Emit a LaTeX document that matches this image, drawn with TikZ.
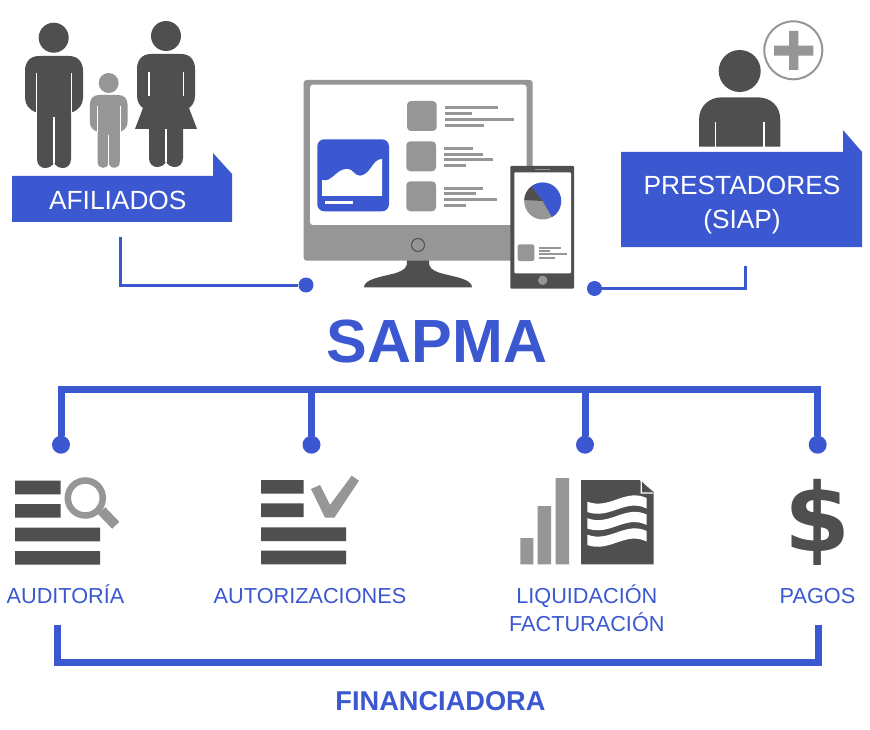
\documentclass[tikz,border=0pt]{standalone}
\usepackage{fontspec}
\setmainfont{Liberation Sans}
\usepackage{tikz}
\definecolor{azul}{HTML}{3B58D1}
\definecolor{oscuro}{HTML}{4F4F4F}
\definecolor{gris}{HTML}{969696}
\tikzset{
  punto/.style={circle,fill=azul,inner sep=0pt,minimum size=15pt},
  puntob/.style={circle,fill=azul,inner sep=0pt,minimum size=18pt},
  linea/.style={draw=azul,line width=3pt},
  lineab/.style={draw=azul,line width=7pt},
  rotulo/.style={text=azul,font=\fontsize{21.7}{28}\selectfont,inner sep=0pt,anchor=base},
  blanco/.style={text=white,font=\fontsize{26.3}{34}\selectfont,inner sep=0pt,align=center,anchor=base},
  ranura/.style={draw=white,line width=1.2pt},
  man/.pic={
    \fill[pic actions] (-15,0)--(15,0) .. controls (24,0) and (29,6) .. (29,15)--(29,42)
      .. controls (29,49) and (24,54) .. (19,56)--(17,56)--(17,103)
      .. controls (17,109) and (13,112) .. (9,112) .. controls (5,112) and (1,110) .. (0,106)
      .. controls (-1,110) and (-5,112) .. (-9,112) .. controls (-13,112) and (-17,109) .. (-17,103)
      --(-17,56)--(-19,56) .. controls (-24,54) and (-29,49) .. (-29,42)--(-29,15)
      .. controls (-29,6) and (-24,0) .. (-15,0)--cycle;
    \draw[ranura] (-17.8,17)--(-17.8,57) (17.8,17)--(17.8,57) (0,61)--(0,107);
  }
}
\begin{document}
\begin{tikzpicture}[x=1pt,y=-1pt]
  \useasboundingbox (0,0) rectangle (870,730);
  \fill[white] (0,0) rectangle (870,730);
  % afiliados
  \fill[oscuro] (53.7,37.7) circle[radius=15];
  \pic[fill=oscuro] at (54,56) {man};
  \fill[gris] (108.7,83) circle[radius=10];
  \pic[fill=gris,scale=0.65] at (108.7,95) {man};
  \fill[oscuro] (166,36) circle[radius=15];
  \fill[oscuro] (151,54)--(181,54) .. controls (190,54) and (195,60) .. (195,69)--(195,96)
    .. controls (195,102) and (192,106) .. (189,108)--(197,129)--(183,129)--(183,158)
    .. controls (183,164) and (179,167) .. (175,167) .. controls (171,167) and (167,165) .. (166,161)
    .. controls (165,165) and (161,167) .. (157,167) .. controls (153,167) and (149,164) .. (149,158)
    --(149,129)--(135,129)--(143,108) .. controls (140,106) and (137,102) .. (137,96)--(137,69)
    .. controls (137,60) and (142,54) .. (151,54)--cycle;
  \draw[ranura] (149,72)--(149,96) (183.5,72)--(183.5,96) (166,129)--(166,162);
  \fill[azul] (12,176)--(213,176)--(213,153)--(232,174)--(232,222)--(12,222)--cycle;
  \node[blanco] (afiliados) at (117.8,210) {AFILIADOS};
  % prestadores
  \draw[gris,line width=2pt,fill=white] (793.3,50.3) circle[radius=29];
  \fill[gris] (789,31) rectangle (798.3,70) (774,45.7) rectangle (813.3,55.7);
  \fill[oscuro] (739.7,71) circle[radius=21];
  \fill[oscuro] (699,146.7)--(699,120) .. controls (699,106) and (709,97.3) .. (722,97.3)--(757,97.3)
    .. controls (771,97.3) and (780.3,106) .. (780.3,120)--(780.3,146.7)--cycle;
  \draw[ranura] (715.3,121.7)--(715.3,147) (764,121.7)--(764,147);
  \fill[azul] (621,152)--(843,152)--(843,130)--(862,152)--(862,247)--(621,247)--cycle;
  \node[blanco] (prestadores) at (742,228.3) {PRESTADORES\\(SIAP)};
  % monitor
  \fill[oscuro] (406.7,260)--(429.3,260) .. controls (428,268) and (432,270) .. (440,273)
    .. controls (455,277) and (472,279) .. (472,287.3)--(364,287.3)
    .. controls (364,279) and (381,277) .. (396,273) .. controls (404,270) and (408,268) .. (406.7,260)--cycle;
  \fill[gris,rounded corners=3pt] (303.7,80) rectangle (532.7,260.7);
  \fill[white,rounded corners=3pt] (310,84.7) rectangle (526.7,225);
  \draw[oscuro,line width=1pt] (418,245) circle[radius=6.5];
  \fill[azul,rounded corners=7pt] (317.3,139.3) rectangle (389,211.3);
  \fill[white] (322,196)--(322,180) .. controls (332,183) and (336,169) .. (346.7,169)
    .. controls (354,169) and (354,176) .. (360,175.7) .. controls (371,175) and (372,159) .. (382,159)--(382,196)--cycle;
  \fill[white] (325,201) rectangle (353,204.3);
  \foreach \x/\y in {407/101,406.3/141.3,406.3/181.3}
    \fill[gris,rounded corners=4pt] (\x,\y) rectangle ++(29.7,30);
  \foreach \y/\e in {108/498,113.7/472.3,119.7/514,125.7/484}
    \draw[gris,line width=3pt] (445,\y)--(\e,\y);
  \foreach \y/\e in {148.3/473,154.3/483,160/493.3,166/466,188.3/482.7,194/476.3,200/497.3,205.7/466.3}
    \draw[gris,line width=3pt] (444.3,\y)--(\e,\y);
  % telefono
  \fill[oscuro,rounded corners=1pt] (510.3,166) rectangle (574,288.7);
  \fill[white,rounded corners=1pt] (514.3,172.3) rectangle (571,273.3);
  \draw[gris,line width=1.2pt] (535,169.7)--(550,169.7);
  \fill[gris] (542.7,280.3) circle[radius=4.7];
  \coordinate (P) at (542.7,201);
  \fill[gris] (P) circle[radius=18.5];
  \fill[azul] (P)--++(-128:18.5) arc[start angle=-128,end angle=60,radius=18.5]--cycle;
  \fill[oscuro] (P)--++(-177:18.5) arc[start angle=-177,end angle=-128,radius=18.5]--cycle;
  \fill[gris,rounded corners=2pt] (517.7,244.3) rectangle (534.3,261);
  \foreach \y/\e in {248/560.7,251.3/550,254.3/566.7,257.7/555}
    \draw[gris,line width=1.7pt] (539,\y)--(\e,\y);
  % conectores de arriba
  \coordinate (A0) at (120.7,237);
  \coordinate (B0) at (745.7,266);
  \node[punto] (A) at (306,285) {};
  \node[punto] (B) at (594.5,288.5) {};
  \draw[linea] (A0)--(A0|-A)--(A);
  \draw[linea] (B0)--(B0|-B)--(B);
  \node[text=azul,font=\bfseries\fontsize{61}{70}\selectfont,inner sep=0pt,anchor=base] (sapma) at (437,362) {SAPMA};
  % arbol
  \coordinate (T0) at (61,389.7);
  \coordinate (T1) at (311.5,389.7);
  \coordinate (T2) at (585,389.7);
  \coordinate (T3) at (817.7,389.7);
  \node[puntob] (D0) at (61,444.7) {};
  \node[puntob] (D1) at (311.5,444.7) {};
  \node[puntob] (D2) at (585,444.7) {};
  \node[puntob] (D3) at (817.7,444.7) {};
  \draw[lineab] (D0)--(T0)--(T3)--(D3);
  \draw[lineab] (T1)--(D1) (T2)--(D2);
  % auditoria
  \fill[oscuro] (15,480.7) rectangle (60.7,494.3) (15,504) rectangle (60.7,517.7)
    (15,527.7) rectangle (100,541.3) (15,551) rectangle (100,564.7);
  \draw[gris,line width=6.5pt] (85.3,498) circle[radius=17.5];
  \draw[gris,line width=10pt] (101.7,510.7)--(115.7,525.3);
  \node[rotulo] (auditoria) at (65.5,603.5) {AUDITORÍA};
  % autorizaciones
  \fill[oscuro] (261,480) rectangle (303.7,493.7) (261,503.3) rectangle (303.7,517)
    (261,527.3) rectangle (346,541) (261,550.7) rectangle (346,564.3);
  \fill[gris] (311,489)--(320,485)--(330,505)--(351.7,475.7)--(359,480.7)--(334.3,517.7)--(325,517.7)--cycle;
  \node[rotulo] (autorizaciones) at (310,603.5) {AUTORIZACIONES};
  % liquidacion
  \fill[gris] (520.3,538) rectangle (533.3,564.3) (537.7,506) rectangle (551,564.3) (555.7,478) rectangle (569,564.3);
  \fill[oscuro] (581,480)--(639.3,480)--(653.7,492)--(653.7,564.3)--(581,564.3)--cycle;
  \fill[white] (640.5,480)--(653.7,493.5)--(640.5,493.5)--cycle;
  \fill[oscuro] (642,481.5)--(652.7,492.3)--(642,492.3)--cycle;
  \foreach \d in {0,16.5,33}
    \fill[white,yshift=-\d pt] (587.3,501.7) .. controls (610,510) and (625,488) .. (646.7,498)--(646.7,508.5)
      .. controls (625,498) and (610,520) .. (587.3,512)--cycle;
  \node[rotulo,align=center] (liquidacion) at (586.8,631.5) {LIQUIDACIÓN\\FACTURACIÓN};
  % pagos
  \node[inner sep=0pt,text=oscuro,font=\fontspec{DejaVu Sans}\bfseries\fontsize{95}{95}\selectfont] (pesos) at (817.5,522) {\$};
  \node[rotulo] (pagos) at (817.5,603.5) {PAGOS};
  % financiadora
  \coordinate (F0) at (57.8,624.5);
  \coordinate (F1) at (818,624.5);
  \coordinate (F2) at (57.8,662);
  \coordinate (F3) at (818,662);
  \draw[lineab] (F0)--(F2)--(F3)--(F1);
  \node[text=azul,font=\bfseries\fontsize{27.2}{30}\selectfont,inner sep=0pt,anchor=base] (financiadora) at (440.5,710) {FINANCIADORA};
\end{tikzpicture}
\end{document}
